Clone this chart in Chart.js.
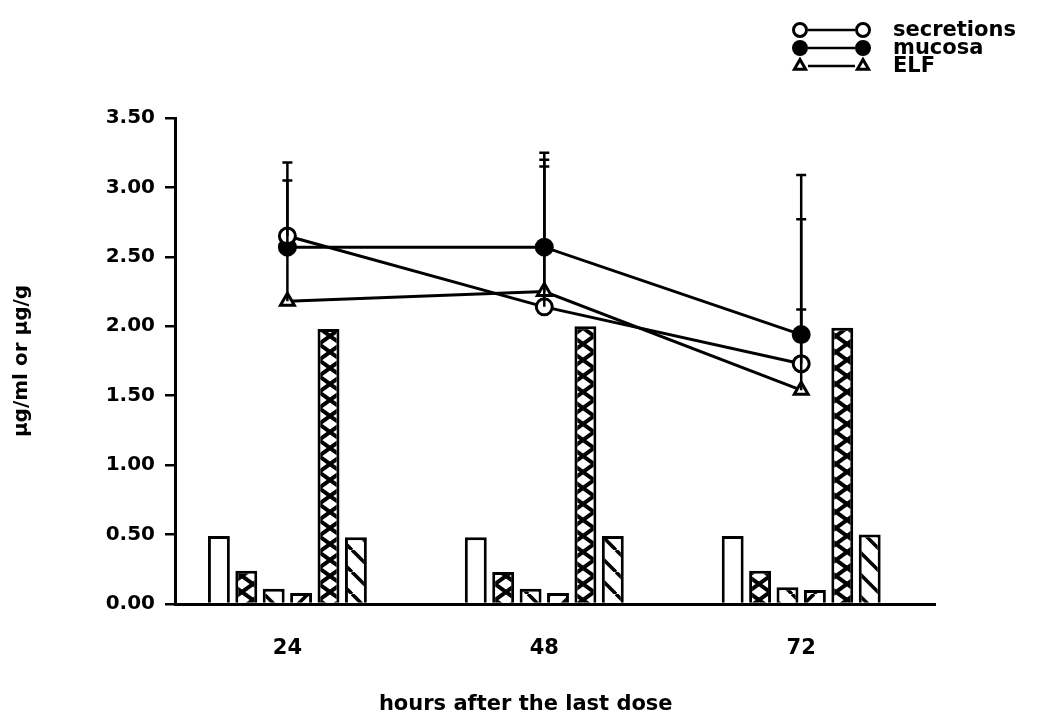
<!DOCTYPE html>
<html lang="en">
<head>
  <meta charset="UTF-8" />
  <title>Concentrations after the last dose</title>
  <script src="https://cdn.jsdelivr.net/npm/chart.js"></script>
  <style>
    html, body { margin: 0; background: #fff; }
  </style>
</head>
<body>
<canvas id="chart" width="1042" height="719"></canvas>

<script>
  // categories (hours after the last dose)
  const hours = [24, 48, 72];

  // the six bars of each group, left to right
  const barOpen   = [0.49, 0.48, 0.49];
  const barCross1 = [0.24, 0.23, 0.24];
  const barDiagA  = [0.11, 0.11, 0.12];
  const barDiagB  = [0.08, 0.08, 0.10];
  const barCross2 = [1.98, 2.00, 1.99];
  const barDiagC  = [0.48, 0.49, 0.50];

  // line series and the upper whiskers (SD)
  const secretions   = [2.65, 2.14, 1.73];
  const mucosa       = [2.57, 2.57, 1.94];
  const elf          = [2.18, 2.25, 1.54];
  const secretionsSD = [0.53, 1.06, 1.04];
  const mucosaSD     = [0.48, 0.68, 1.15];
  const elfSD        = [0.42, 0.90, 0.58];

  const yTicks = [0, 0.5, 1, 1.5, 2, 2.5, 3, 3.5];

  Chart.defaults.font.family = "'DejaVu Sans', sans-serif";
  Chart.defaults.font.weight = 'bold';
  Chart.defaults.color = '#000';

  // hatch fills
  function hatch(kind) {
    const w = 22, s = kind === 'cross' ? 16 : 22;
    const c = document.createElement('canvas');
    c.width = w; c.height = s;
    const g = c.getContext('2d');
    g.fillStyle = '#fff';
    g.fillRect(0, 0, w, s);
    g.strokeStyle = '#000';
    g.lineWidth = kind === 'cross' ? 4 : 3.5;
    for (let k = -1; k <= 1; k++) {
      g.beginPath();
      if (kind === 'cross' || kind === 'back') {
        g.moveTo(k * w, 0); g.lineTo(k * w + w, s);
      }
      if (kind === 'cross' || kind === 'fwd') {
        g.moveTo(k * w, s); g.lineTo(k * w + w, 0);
      }
      g.stroke();
    }
    return g.createPattern(c, 'repeat');
  }

  const pts = arr => hours.map((h, i) => ({ x: h, y: arr[i] }));

  function barSet(label, arr, fill) {
    return {
      type: 'bar', label, data: pts(arr), order: 2,
      backgroundColor: fill, borderColor: '#000', borderWidth: 3,
      categoryPercentage: 0.64, barPercentage: 0.8
    };
  }

  function lineSet(label, arr, style, bg) {
    return {
      type: 'line', label, data: pts(arr), order: 1,
      borderColor: '#000', borderWidth: 3,
      pointStyle: style, pointRadius: 8, pointBorderWidth: 3,
      pointBackgroundColor: bg, pointBorderColor: '#000'
    };
  }

  const lineSeries = [
    { label: 'secretions', values: secretions, sd: secretionsSD, style: 'circle', bg: '#fff' },
    { label: 'mucosa', values: mucosa, sd: mucosaSD, style: 'circle', bg: '#000' },
    { label: 'ELF', values: elf, sd: elfSD, style: 'triangle', bg: '#fff' }
  ];

  // whiskers drawn through the scales
  const errorBars = {
    id: 'errorBars',
    afterDatasetsDraw(chart) {
      const { ctx, scales: { x, y } } = chart;
      ctx.save();
      ctx.strokeStyle = '#000';
      ctx.lineWidth = 2.5;
      lineSeries.forEach(s => {
        hours.forEach((h, i) => {
          const px = x.getPixelForValue(h);
          const y0 = y.getPixelForValue(s.values[i]);
          const y1 = y.getPixelForValue(s.values[i] + s.sd[i]);
          ctx.beginPath();
          ctx.moveTo(px, y0);
          ctx.lineTo(px, y1);
          ctx.moveTo(px - 5, y1);
          ctx.lineTo(px + 5, y1);
          ctx.stroke();
        });
      });
      ctx.restore();
    }
  };

  // "O—O secretions" style legend, top right
  const markerLegend = {
    id: 'markerLegend',
    afterDraw(chart) {
      const ctx = chart.ctx;
      ctx.save();
      ctx.font = "bold 21px 'DejaVu Sans', sans-serif";
      ctx.textBaseline = 'middle';
      lineSeries.forEach((s, i) => {
        const yy = 30 + i * 18;
        ctx.strokeStyle = '#000';
        ctx.lineWidth = 2.5;
        ctx.beginPath();
        ctx.moveTo(808, yy);
        ctx.lineTo(855, yy);
        ctx.stroke();
        [800, 863].forEach(xx => {
          ctx.fillStyle = s.bg;
          ctx.strokeStyle = '#000';
          ctx.lineWidth = 3;
          Chart.helpers.drawPoint(ctx, { pointStyle: s.style, radius: 6.5, rotation: 0, borderWidth: 3 }, xx, yy);
        });
        ctx.fillStyle = '#000';
        ctx.fillText(s.label, 893, yy + 1);
      });
      ctx.restore();
    }
  };

  new Chart(document.getElementById('chart'), {
    type: 'bar',
    data: {
      datasets: [
        ...lineSeries.map(s => lineSet(s.label, s.values, s.style, s.bg)),
        barSet('bar 1', barOpen, '#fff'),
        barSet('bar 2', barCross1, hatch('cross')),
        barSet('bar 3', barDiagA, hatch('back')),
        barSet('bar 4', barDiagB, hatch('fwd')),
        barSet('bar 5', barCross2, hatch('cross')),
        barSet('bar 6', barDiagC, hatch('back'))
      ]
    },
    options: {
      responsive: false,
      animation: false,
      events: [],
      layout: { padding: { top: 118, right: 107, left: 0, bottom: 0 } },
      plugins: { legend: { display: false }, tooltip: { enabled: false } },
      scales: {
        x: {
          type: 'linear', min: 13.5, max: 84.5, offset: false,
          afterBuildTicks: axis => { axis.ticks = hours.map(v => ({ value: v })); },
          afterFit: axis => { axis.height = 115; },
          grid: { display: false, offset: false },
          border: { display: true, color: '#000', width: 3 },
          ticks: { font: { size: 21, weight: 'bold' }, padding: 24, callback: v => String(v) },
          title: {
            display: true, text: 'hours after the last dose        ',
            font: { size: 21, weight: 'bold' }, padding: { bottom: 2 }
          }
        },
        y: {
          min: 0, max: 3.5,
          afterBuildTicks: axis => { axis.ticks = yTicks.map(v => ({ value: v })); },
          afterFit: axis => { axis.width = 175; },
          grid: { drawOnChartArea: false, color: '#000', lineWidth: 2.5, tickLength: 10 },
          border: { display: true, color: '#000', width: 3 },
          ticks: { font: { size: 20, weight: 'bold' }, padding: 10, callback: v => v.toFixed(2) },
          title: {
            display: true, text: 'µg/ml or µg/g',
            font: { size: 20, weight: 'bold' }, padding: { top: 10 }
          }
        }
      }
    },
    plugins: [errorBars, markerLegend]
  });
</script>
</body>
</html>
